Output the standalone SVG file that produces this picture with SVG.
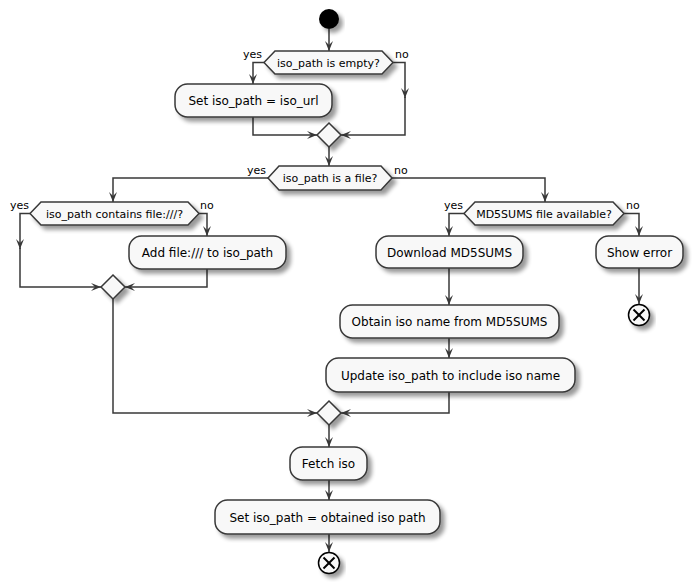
<svg xmlns="http://www.w3.org/2000/svg" width="694" height="585" viewBox="0 0 694 585">
<defs>
<filter id="sh" x="-20%" y="-20%" width="150%" height="160%">
<feGaussianBlur in="SourceAlpha" stdDeviation="2"/>
<feOffset dx="4" dy="4" result="b"/>
<feComponentTransfer><feFuncA type="linear" slope="0.4"/></feComponentTransfer>
<feMerge><feMergeNode/><feMergeNode in="SourceGraphic"/></feMerge>
</filter>
<marker id="ah" viewBox="0 0 10 10" refX="10" refY="5" markerWidth="10" markerHeight="10" markerUnits="userSpaceOnUse" orient="auto">
<path d="M0,1 L10,5 L0,9 L4,5 Z" fill="#383838"/>
</marker>
</defs>
<style>
.box{fill:#F8F8F8;stroke:#383838;stroke-width:1.5;filter:url(#sh)}
.t{font-family:"DejaVu Sans",sans-serif;font-size:12px;fill:#000;text-anchor:middle}
.d{font-family:"DejaVu Sans",sans-serif;font-size:11px;fill:#000;text-anchor:middle}
.l{font-family:"DejaVu Sans",sans-serif;font-size:11px;fill:#000}
.c{fill:none;stroke:#383838;stroke-width:1.5}
.end circle{fill:#F8F8F8;stroke:#000;stroke-width:1.5}
.end line{stroke:#000;stroke-width:2}
</style>
<rect width="694" height="585" fill="#FFFFFF"/>
<g id="connectors">
<path class="c" d="M329,29 V51" marker-end="url(#ah)"/>
<path class="c" d="M264,62.5 H253 V84" marker-end="url(#ah)"/>
<path class="c" d="M393,62.5 H405 V98"  marker-end="url(#ah)"/>
<path class="c" d="M405,97 V135 H341" marker-end="url(#ah)"/>
<path class="c" d="M253,117 V135 H317" marker-end="url(#ah)"/>
<path class="c" d="M329,147 V166" marker-end="url(#ah)"/>
<path class="c" d="M268,178 H113 V202" marker-end="url(#ah)"/>
<path class="c" d="M392,178 H545 V202" marker-end="url(#ah)"/>
<path class="c" d="M30,213.5 H20 V249" marker-end="url(#ah)"/>
<path class="c" d="M20,248 V287 H101" marker-end="url(#ah)"/>
<path class="c" d="M199,213.5 H207 V236" marker-end="url(#ah)"/>
<path class="c" d="M207,269 V287 H125" marker-end="url(#ah)"/>
<path class="c" d="M113,299 V413 H317" marker-end="url(#ah)"/>
<path class="c" d="M464,213.5 H449 V236" marker-end="url(#ah)"/>
<path class="c" d="M624,213.5 H639 V236" marker-end="url(#ah)"/>
<path class="c" d="M639,268 V304" marker-end="url(#ah)"/>
<path class="c" d="M449,268 V305" marker-end="url(#ah)"/>
<path class="c" d="M449,338 V358" marker-end="url(#ah)"/>
<path class="c" d="M449,392 V413 H341" marker-end="url(#ah)"/>
<path class="c" d="M329,425 V447" marker-end="url(#ah)"/>
<path class="c" d="M329,480 V500" marker-end="url(#ah)"/>
<path class="c" d="M329,534 V552" marker-end="url(#ah)"/>
</g>
<g id="start"><circle cx="329" cy="19" r="10" fill="#000" filter="url(#sh)"/></g>
<g id="d1">
<polygon class="box" points="264,62.5 275,51 382,51 393,62.5 382,74 275,74"/>
<text class="d" x="328.5" y="66.5">iso_path is empty?</text>
<text class="l" x="262" y="58" text-anchor="end">yes</text>
<text class="l" x="395" y="58">no</text>
</g>
<g id="a1"><rect class="box" x="175" y="84" width="157" height="33" rx="12.5"/><text class="t" x="253.5" y="105">Set iso_path = iso_url</text></g>
<g id="m1"><polygon class="box" points="329,123 341,135 329,147 317,135"/></g>
<g id="d2">
<polygon class="box" points="268,178 279,166 381,166 392,178 381,190 279,190"/>
<text class="d" x="330" y="182">iso_path is a file?</text>
<text class="l" x="266" y="174" text-anchor="end">yes</text>
<text class="l" x="394" y="174">no</text>
</g>
<g id="d3">
<polygon class="box" points="30,213.5 41,202 188,202 199,213.5 188,225 41,225"/>
<text class="d" x="114.5" y="217.5">iso_path contains file:///?</text>
<text class="l" x="29" y="209" text-anchor="end">yes</text>
<text class="l" x="200" y="209">no</text>
</g>
<g id="a3"><rect class="box" x="129" y="236" width="157" height="33" rx="12.5"/><text class="t" x="207.5" y="257">Add file:/// to iso_path</text></g>
<g id="m3"><polygon class="box" points="113,275 125,287 113,299 101,287"/></g>
<g id="d4">
<polygon class="box" points="464,213.5 475,202 613,202 624,213.5 613,225 475,225"/>
<text class="d" x="544" y="217.5">MD5SUMS file available?</text>
<text class="l" x="463" y="209" text-anchor="end">yes</text>
<text class="l" x="626" y="209">no</text>
</g>
<g id="a4"><rect class="box" x="376" y="236" width="147" height="32" rx="12.5"/><text class="t" x="449.5" y="256.5">Download MD5SUMS</text></g>
<g id="a5"><rect class="box" x="596" y="236" width="87" height="32" rx="12.5"/><text class="t" x="639.5" y="256.5">Show error</text></g>
<g id="end1" class="end"><circle cx="639" cy="315" r="10.5" filter="url(#sh)"/><line x1="633.5" y1="309.5" x2="644.5" y2="320.5"/><line x1="644.5" y1="309.5" x2="633.5" y2="320.5"/></g>
<g id="a6"><rect class="box" x="340" y="305" width="219" height="33" rx="12.5"/><text class="t" x="449.5" y="326">Obtain iso name from MD5SUMS</text></g>
<g id="a7"><rect class="box" x="326" y="358" width="249" height="34" rx="12.5"/><text class="t" x="450.5" y="379.5">Update iso_path to include iso name</text></g>
<g id="m4"><polygon class="box" points="329,401 341,413 329,425 317,413"/></g>
<g id="a8"><rect class="box" x="290" y="447" width="77" height="33" rx="12.5"/><text class="t" x="328.5" y="468">Fetch iso</text></g>
<g id="a9"><rect class="box" x="215" y="500" width="225" height="34" rx="12.5"/><text class="t" x="327.5" y="521.5">Set iso_path = obtained iso path</text></g>
<g id="end2" class="end"><circle cx="329" cy="563" r="10.5" filter="url(#sh)"/><line x1="323.5" y1="557.5" x2="334.5" y2="568.5"/><line x1="334.5" y1="557.5" x2="323.5" y2="568.5"/></g>
</svg>
